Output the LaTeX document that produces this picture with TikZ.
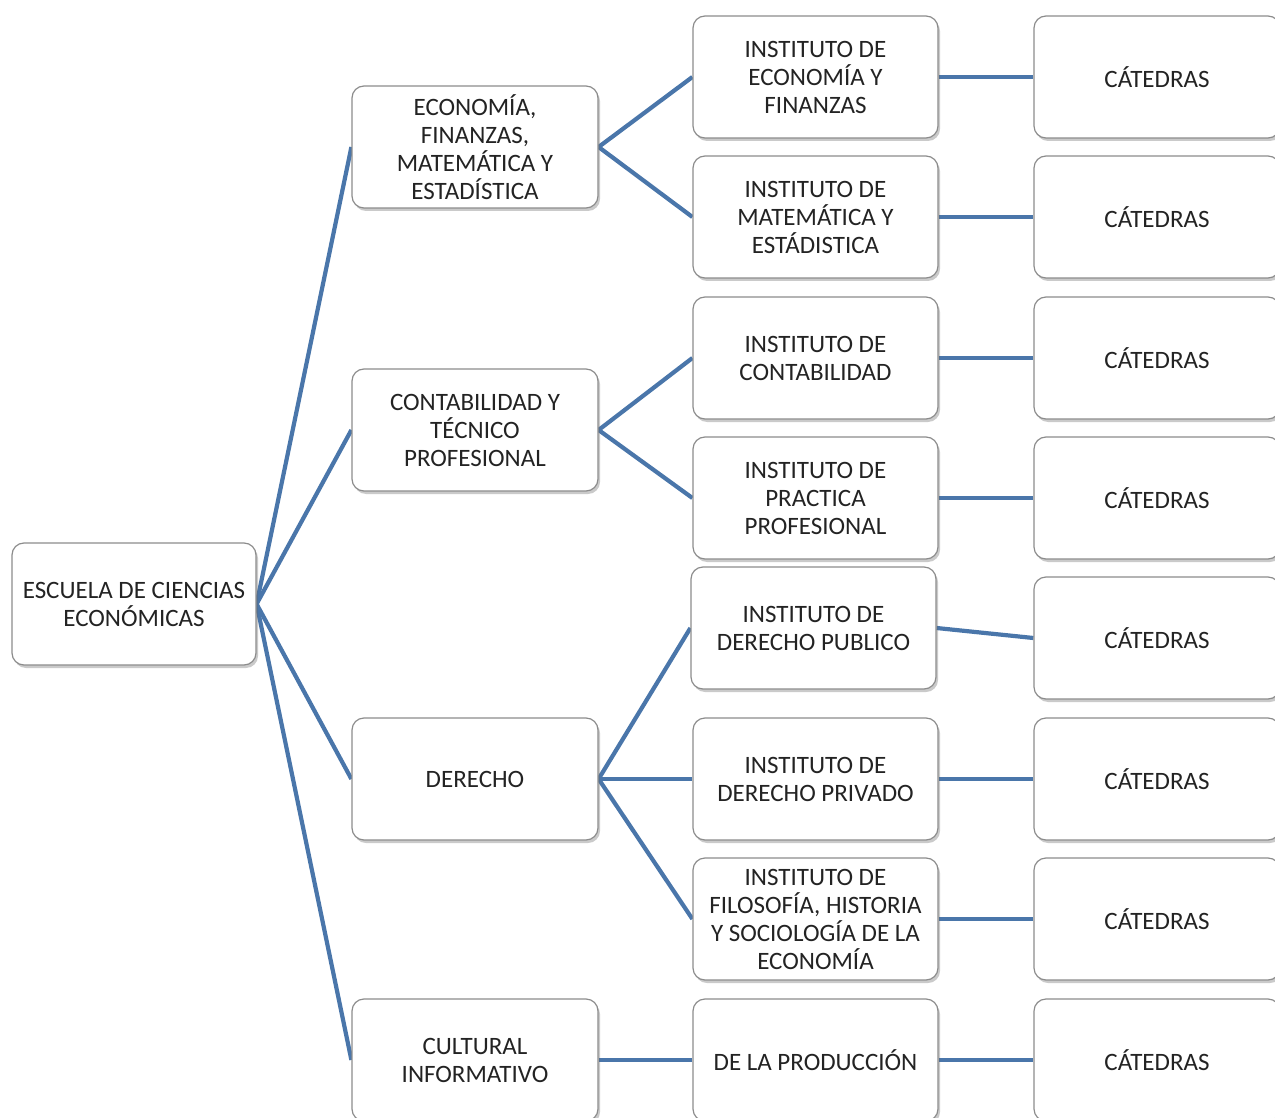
\documentclass[tikz,border=0pt]{standalone}
\usepackage{fontspec}
\setmainfont{Carlito}
\usetikzlibrary{shadows,backgrounds}
\definecolor{linkblue}{RGB}{74,118,170}
\definecolor{boxborder}{RGB}{140,140,140}
\definecolor{txt}{RGB}{35,35,35}
\tikzset{
  orgbox/.style={draw=boxborder, line width=1.2pt, fill=white, rounded corners=12pt,
    minimum width=246pt, minimum height=122pt, align=center, inner sep=2pt,
    text=txt, font=\fontsize{25pt}{28pt}\selectfont,
    drop shadow={shadow xshift=2pt, shadow yshift=-3pt, opacity=0.35, fill=black!60}},
  link/.style={draw=linkblue, line width=4.2pt}
}
\begin{document}
\begin{tikzpicture}[x=1pt,y=-1pt]
\useasboundingbox (0,0) rectangle (1275,1118);
\clip (0,0) rectangle (1275,1118);
% root
\node[orgbox, minimum width=244pt] (root) at (134,604) {ESCUELA DE CIENCIAS\\ECONÓMICAS};
% level 1
\node[orgbox] (econ) at (475,147) {ECONOMÍA,\\FINANZAS,\\MATEMÁTICA Y\\ESTADÍSTICA};
\node[orgbox] (cont) at (475,430) {CONTABILIDAD Y\\TÉCNICO\\PROFESIONAL};
\node[orgbox] (der) at (475,779) {DERECHO};
\node[orgbox] (cult) at (475,1060) {CULTURAL\\INFORMATIVO};
% level 2
\node[orgbox, minimum width=245pt] (ie) at (815.5,77) {INSTITUTO DE\\ECONOMÍA Y\\FINANZAS};
\node[orgbox, minimum width=245pt] (im) at (815.5,217) {INSTITUTO DE\\MATEMÁTICA Y\\ESTÁDISTICA};
\node[orgbox, minimum width=245pt] (ic) at (815.5,358) {INSTITUTO DE\\CONTABILIDAD};
\node[orgbox, minimum width=245pt] (ip) at (815.5,498) {INSTITUTO DE\\PRACTICA\\PROFESIONAL};
\node[orgbox, minimum width=245pt] (idp) at (813.5,628) {INSTITUTO DE\\DERECHO PUBLICO};
\node[orgbox, minimum width=245pt] (idv) at (815.5,779) {INSTITUTO DE\\DERECHO PRIVADO};
\node[orgbox, minimum width=245pt] (if) at (815.5,919) {INSTITUTO DE\\FILOSOFÍA, HISTORIA\\Y SOCIOLOGÍA DE LA\\ECONOMÍA};
\node[orgbox, minimum width=245pt] (iprod) at (815.5,1060) {DE LA PRODUCCIÓN};
% level 3
\node[orgbox] (c1) at (1157,77) {CÁTEDRAS};
\node[orgbox] (c2) at (1157,217) {CÁTEDRAS};
\node[orgbox] (c3) at (1157,358) {CÁTEDRAS};
\node[orgbox] (c4) at (1157,498) {CÁTEDRAS};
\node[orgbox] (c5) at (1157,638) {CÁTEDRAS};
\node[orgbox] (c6) at (1157,779) {CÁTEDRAS};
\node[orgbox] (c7) at (1157,919) {CÁTEDRAS};
\node[orgbox] (c8) at (1157,1060) {CÁTEDRAS};
% connectors
\begin{scope}[on background layer]
\foreach \t in {econ,cont,der,cult} \draw[link] (root.east) -- (\t.west);
\foreach \t in {ie,im} \draw[link] (econ.east) -- (\t.west);
\foreach \t in {ic,ip} \draw[link] (cont.east) -- (\t.west);
\foreach \t in {idp,idv,if} \draw[link] (der.east) -- (\t.west);
\draw[link] (cult.east) -- (iprod.west);
\draw[link] (ie.east) -- (c1.west);
\draw[link] (im.east) -- (c2.west);
\draw[link] (ic.east) -- (c3.west);
\draw[link] (ip.east) -- (c4.west);
\draw[link] (idp.east) -- (c5.west);
\draw[link] (idv.east) -- (c6.west);
\draw[link] (if.east) -- (c7.west);
\draw[link] (iprod.east) -- (c8.west);
\end{scope}
\end{tikzpicture}
\end{document}
